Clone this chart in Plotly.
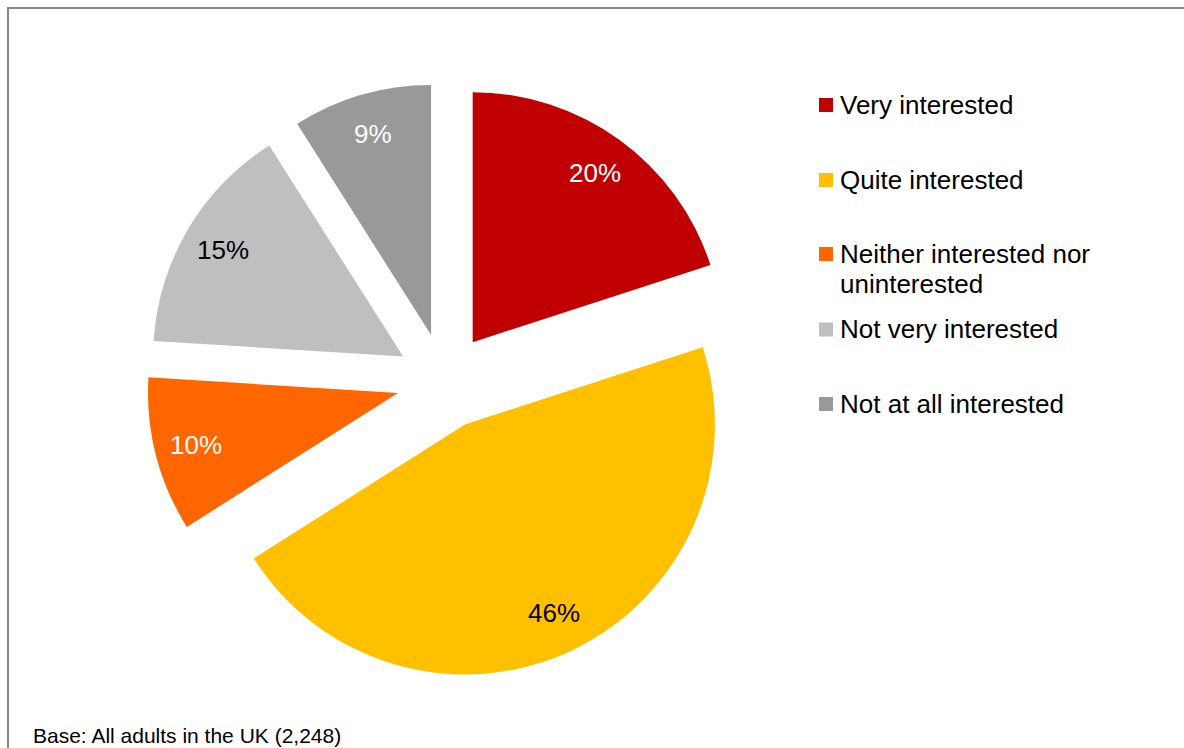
import math
import textwrap
import plotly.graph_objects as go

# ---- data -------------------------------------------------------------
labels = [
    "Very interested",
    "Quite interested",
    "Neither interested nor uninterested",
    "Not very interested",
    "Not at all interested",
]
values = [20, 46, 10, 15, 9]
colors = ["#C00000", "#FFC000", "#FF6600", "#BFBFBF", "#999999"]
label_font_colors = ["#FFFFFF", "#000000", "#FFFFFF", "#000000", "#FFFFFF"]
base_note = "Base: All adults in the UK (2,248)"

# ---- layout constants -------------------------------------------------
W, H = 1184, 748
FONT = "Liberation Sans, Arial, Helvetica, sans-serif"
PULL = 0.192
DOM_X = [0.1237, 0.6271]
DOM_Y = [0.0922, 0.8890]
LABEL_RADIUS = 0.835         # fraction of the radius where % labels sit
LEGEND_ROWS_Y = [105, 180, 254, 329.5, 404]   # px, first-line centres
LEGEND_LINE_GAP = 30
SWATCH_X = 819
SWATCH = 14
LEGEND_TEXT_X = 838

fig = go.Figure(
    go.Pie(
        labels=labels,
        values=values,
        sort=False,
        direction="clockwise",
        rotation=0,
        pull=[PULL] * len(values),
        marker=dict(colors=colors, line=dict(width=0)),
        textinfo="none",
        hoverinfo="label+percent",
        showlegend=False,
        domain=dict(x=DOM_X, y=DOM_Y),
    )
)

# pie geometry in pixels (same rules plotly uses to size a pulled pie)
cx = W * (DOM_X[0] + DOM_X[1]) / 2
cy = H * (1 - (DOM_Y[0] + DOM_Y[1]) / 2)
r = min(W * (DOM_X[1] - DOM_X[0]), H * (DOM_Y[1] - DOM_Y[0])) / 2 / (1 + PULL)

annotations = []
total = sum(values)
cum = 0
for v, fc in zip(values, label_font_colors):
    mid = (cum + v / 2) / total
    cum += v
    theta = 2 * math.pi * mid
    d = PULL * r + LABEL_RADIUS * r
    px = cx + math.sin(theta) * d
    py = cy - math.cos(theta) * d
    annotations.append(dict(
        x=px / W, y=1 - py / H, xref="paper", yref="paper",
        text=f"{v}%", showarrow=False,
        xanchor="center", yanchor="middle",
        font=dict(family=FONT, size=26, color=fc),
    ))

# legend: coloured squares with wrapped labels
shapes = []
for lab, col, ry in zip(labels, colors, LEGEND_ROWS_Y):
    shapes.append(dict(
        type="rect", xref="paper", yref="paper",
        x0=SWATCH_X / W, x1=(SWATCH_X + SWATCH) / W,
        y0=1 - (ry + SWATCH / 2) / H, y1=1 - (ry - SWATCH / 2) / H,
        fillcolor=col, line=dict(width=0),
    ))
    for i, line in enumerate(textwrap.wrap(lab, 22)):
        annotations.append(dict(
            x=LEGEND_TEXT_X / W, y=1 - (ry + i * LEGEND_LINE_GAP) / H,
            xref="paper", yref="paper", text=line, showarrow=False,
            xanchor="left", yanchor="middle",
            font=dict(family=FONT, size=26, color="#000000"),
        ))

# base note at the foot of the chart
annotations.append(dict(
    x=31 / W, y=1 - 735 / H, xref="paper", yref="paper",
    text=base_note, showarrow=False, xanchor="left", yanchor="middle",
    font=dict(family=FONT, size=21, color="#000000"),
))

# chart frame
shapes.append(dict(
    type="rect", xref="paper", yref="paper",
    x0=8 / W, x1=1.02, y0=-0.02, y1=1 - 8 / H,
    line=dict(color="#878787", width=2), fillcolor="rgba(0,0,0,0)",
    layer="below",
))

fig.update_layout(
    width=W, height=H,
    margin=dict(l=0, r=0, t=0, b=0),
    paper_bgcolor="#FFFFFF", plot_bgcolor="#FFFFFF",
    annotations=annotations, shapes=shapes,
    font=dict(family=FONT),
)

fig.write_html("out.html")
